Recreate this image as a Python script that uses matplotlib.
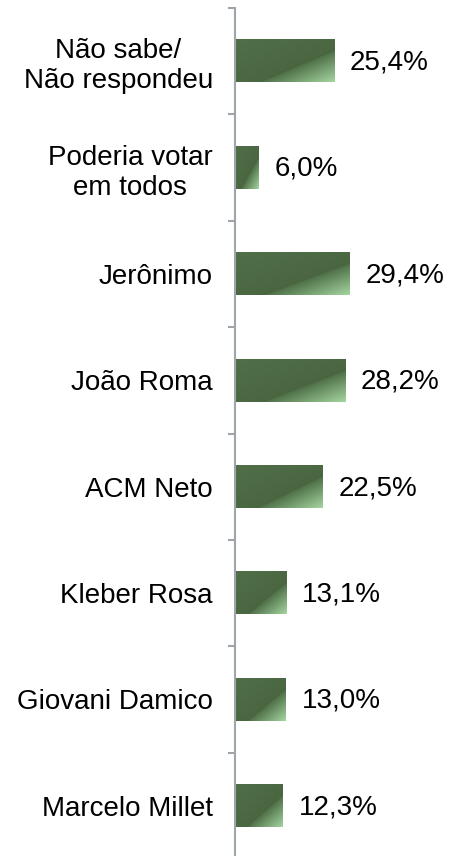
import numpy as np
import matplotlib
matplotlib.use("Agg")
import matplotlib.pyplot as plt
from matplotlib.colors import LinearSegmentedColormap

plt.rcParams['font.family'] = ['Liberation Sans', 'DejaVu Sans']

#-----data-----#
candidatos = ["Não sabe/\nNão respondeu", "Poderia votar\nem todos", "Jerônimo",
              "João Roma", "ACM Neto", "Kleber Rosa", "Giovani Damico", "Marcelo Millet"]
valores = [25.4, 6.0, 29.4, 28.2, 22.5, 13.1, 13.0, 12.3]
rotulos = ["25,4%", "6,0%", "29,4%", "28,2%", "22,5%", "13,1%", "13,0%", "12,3%"]
#-----data-----#

n = len(candidatos)
pos = np.arange(n)[::-1]   # first category on top
h = 0.4

# dark green with a light diagonal corner (bottom right)
cmap = LinearSegmentedColormap.from_list(
    "verde", [(0.0, "#506f49"), (0.60, "#4a6742"), (0.63, "#486440"),
              (0.64, "#51724a"), (1.0, "#a4d5a0")])

fig = plt.figure(figsize=(4.5, 8.56), dpi=100)
ax = fig.add_axes([235/450, 1 - 859/856, 1 - 235/450, 851/856])

nx, ny = 200, 80
u = np.linspace(0, 1, nx)[None, :]
v = np.linspace(0, 1, ny)[:, None]
grad = (u + v) / 2.0

for p, val, lab in zip(pos, valores, rotulos):
    ax.imshow(grad, cmap=cmap, vmin=0, vmax=1, origin='upper', aspect='auto',
              extent=(0, val, p - h/2, p + h/2), interpolation='bilinear', zorder=2)
    ax.annotate(lab, xy=(val, p), xytext=(11.5, -1), textcoords='offset points',
                ha='left', va='center', fontsize=20, color='black')

ax.set_xlim(0, 55.1)
ax.set_ylim(-0.5, n - 0.5)

for s in ['top', 'right', 'bottom']:
    ax.spines[s].set_visible(False)
ax.spines['left'].set_color('#a0a4ab')
ax.spines['left'].set_linewidth(1.5)
ax.set_xticks([])

ax.set_yticks(pos)
ax.set_yticklabels(candidatos, fontsize=20, multialignment='center')
ax.tick_params(axis='y', which='major', length=0, pad=16)
ax.set_yticks(np.arange(n + 1) - 0.5, minor=True)
ax.tick_params(axis='y', which='minor', length=5, width=1.5, color='#a0a4ab')

fig.savefig("out.png", dpi=100)
